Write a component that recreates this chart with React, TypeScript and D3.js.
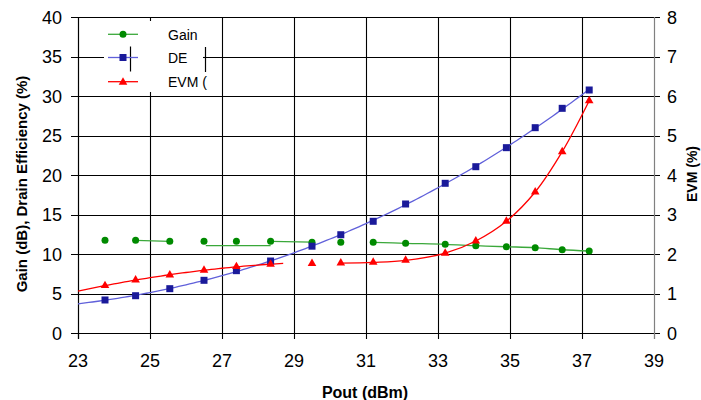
import React from "react";
import * as d3 from "d3";

// ---- data ----
const pout = [23.75, 24.6, 25.55, 26.5, 27.4, 28.35, 29.5, 30.3, 31.2, 32.1, 33.2, 34.05, 34.9, 35.7, 36.45, 37.2];
const gain = [11.73, 11.73, 11.61, 11.61, 11.61, 11.61, 11.5, 11.48, 11.48, 11.35, 11.23, 11.05, 10.92, 10.8, 10.54, 10.38];
const drainEff = [4.18, 4.72, 5.61, 6.67, 7.89, 9.11, 10.99, 12.44, 14.14, 16.33, 18.95, 21.05, 23.46, 25.99, 28.44, 30.76];
const evm = [1.2, 1.34, 1.47, 1.59, 1.68, 1.74, 1.76, 1.77, 1.79, 1.84, 2.02, 2.33, 2.83, 3.57, 4.59, 5.88];

const xTicks = [23, 25, 27, 29, 31, 33, 35, 37, 39];
const leftTicks = [0, 5, 10, 15, 20, 25, 30, 35, 40];
const rightTicks = [0, 1, 2, 3, 4, 5, 6, 7, 8];
const legendLabels = ["Gain", "DE", "EVM ("];

// connecting-line pieces as they appear in the source (index ranges)
const gainSegments = [[1, 2], [5, 6], [8, 15]];
const gainFlatX = [26.55, 28.35];
const gainFlatY = 11.05;
const evmSmoothSegment = [7, 15];
const evmTrendFitIdx = [0, 5];
const evmTrendRange = [23, 28.7];
const deTrendStart = 23;

const FONT = "'Liberation Sans', Arial, Helvetica, sans-serif";
const GREEN = "#008a00";
const GREEN_LINE = "#3aa83a";
const BLUE = "#1a1a9a";
const BLUE_LINE = "#6060da";
const RED = "#ff0000";

function polyfit(xs: number[], ys: number[], deg: number) {
  const mx = d3.mean(xs) as number;
  const n = deg + 1;
  const A: number[][] = Array.from({ length: n }, () => new Array(n + 1).fill(0));
  xs.forEach((x0, k) => {
    const x = x0 - mx;
    for (let i = 0; i < n; i++) {
      for (let j = 0; j < n; j++) A[i][j] += Math.pow(x, i + j);
      A[i][n] += ys[k] * Math.pow(x, i);
    }
  });
  for (let i = 0; i < n; i++) {
    let p = i;
    for (let r = i + 1; r < n; r++) if (Math.abs(A[r][i]) > Math.abs(A[p][i])) p = r;
    [A[i], A[p]] = [A[p], A[i]];
    for (let r = 0; r < n; r++) {
      if (r === i) continue;
      const f = A[r][i] / A[i][i];
      for (let c = i; c <= n; c++) A[r][c] -= f * A[i][c];
    }
  }
  const coef = A.map((row, i) => row[n] / row[i]);
  return (x: number) => coef.reduce((s, c, i) => s + c * Math.pow(x - mx, i), 0);
}

export default function App() {
  const W = 701, H = 400;
  const L = 78, R = 654, T = 17, B = 333;
  const x = d3.scaleLinear().domain([23, 39]).range([L, R]);
  const yL = d3.scaleLinear().domain([0, 40]).range([B, T]);
  const yR = d3.scaleLinear().domain([0, 8]).range([B, T]);

  const straight = d3.line<[number, number]>().x((d) => d[0]).y((d) => d[1]);
  const smooth = d3.line<[number, number]>().x((d) => d[0]).y((d) => d[1]).curve(d3.curveCatmullRom.alpha(0.5));

  // DE trend (cubic)
  const deFit = polyfit(pout, drainEff, 3);
  const deXs = d3.range(deTrendStart, pout[pout.length - 1] + 0.001, 0.1);
  const dePath = straight(deXs.map((v) => [x(v), yL(deFit(v))]));

  // EVM low-power trend
  const evmFitX = pout.slice(evmTrendFitIdx[0], evmTrendFitIdx[1] + 1);
  const evmFitY = evm.slice(evmTrendFitIdx[0], evmTrendFitIdx[1] + 1);
  const evmFit = polyfit(evmFitX, evmFitY, 2);
  const evmTrendXs = d3.range(evmTrendRange[0], evmTrendRange[1] + 0.001, 0.1);
  const evmTrendPath = straight(evmTrendXs.map((v) => [x(v), yR(evmFit(v))]));
  const evmSmoothPath = smooth(
    d3.range(evmSmoothSegment[0], evmSmoothSegment[1] + 1).map((i) => [x(pout[i]), yR(evm[i])])
  );

  const gainPaths = gainSegments.map(([a, b]) =>
    smooth(d3.range(a, b + 1).map((i) => [x(pout[i]), yL(gain[i])]))
  );
  const gainFlatPath = straight(gainFlatX.map((v) => [x(v), yL(gainFlatY)]));

  const sq = 7;
  const rc = 3.5;
  const tri = d3.symbol().type(d3.symbolTriangle).size(32)() as string;

  // legend geometry
  const lgX = 104, lgY = 21, lgW = 99, lgH = 71;
  const rowY = [34.3, 57.5, 81.7];
  const mkX0 = 108, mkX1 = 138, mkC = 123, txtX = 168;

  return (
    <svg width={W} height={H} style={{ position: "absolute", left: 0, top: 0, background: "#fff" }} fontFamily={FONT}>
      <rect x={0} y={0} width={W} height={H} fill="#fff" />
      {/* horizontal gridlines + left/right ticks */}
      {leftTicks.map((t) => (
        <line key={"h" + t} x1={L - 7} x2={R + 6} y1={Math.round(yL(t)) + 0.5} y2={Math.round(yL(t)) + 0.5} stroke="#000" strokeWidth={1.1} />
      ))}
      {/* vertical gridlines + bottom ticks */}
      {xTicks.map((t) => (
        <line key={"v" + t} x1={Math.round(x(t)) + 0.5} x2={Math.round(x(t)) + 0.5}
          y1={t === 23 || t === 39 ? B : T} y2={B + 6} stroke={t === 39 ? "#808080" : "#000"} strokeWidth={1.1} />
      ))}
      {/* axes */}
      <line x1={L + 0.5} x2={L + 0.5} y1={T} y2={B + 6} stroke="#000" strokeWidth={1.2} />
      <line x1={R + 0.5} x2={R + 0.5} y1={T} y2={B + 6} stroke="#808080" strokeWidth={1.2} />

      {/* tick labels */}
      {leftTicks.map((t) => (
        <text key={"lt" + t} x={62} y={yL(t) + 6.5} fontSize={18} textAnchor="end" fill="#000">{t}</text>
      ))}
      {rightTicks.map((t) => (
        <text key={"rt" + t} x={667} y={yR(t) + 6.5} fontSize={18} textAnchor="start" fill="#000">{t}</text>
      ))}
      {xTicks.map((t) => (
        <text key={"xt" + t} x={x(t)} y={367} fontSize={18} textAnchor="middle" fill="#000">{t}</text>
      ))}

      {/* axis titles */}
      <text x={365} y={398} fontSize={16} fontWeight="bold" textAnchor="middle">Pout (dBm)</text>
      <text transform={`translate(27,184) rotate(-90)`} fontSize={15} fontWeight="bold" textAnchor="middle">Gain (dB), Drain Efficiency (%)</text>
      <text transform={`translate(697,174) rotate(-90)`} fontSize={14} fontWeight="bold" textAnchor="middle">EVM (%)</text>

      {/* legend */}
      <rect x={lgX} y={lgY} width={lgW} height={lgH} fill="#fff" />
      <line x1={130.5} x2={130.5} y1={46.5} y2={71.5} stroke="#000" strokeWidth={1.2} />
      <line x1={205.5} x2={205.5} y1={47} y2={72} stroke="#000" strokeWidth={1.2} />
      <line x1={203} x2={206} y1={57.5} y2={57.5} stroke="#000" strokeWidth={1.1} />
      <line x1={mkX0} x2={mkX1} y1={rowY[0]} y2={rowY[0]} stroke={GREEN_LINE} strokeWidth={1.3} />
      <circle cx={mkC} cy={rowY[0]} r={rc} fill={GREEN} />
      <line x1={mkX0} x2={mkX1} y1={rowY[1]} y2={rowY[1]} stroke={BLUE_LINE} strokeWidth={1.3} />
      <rect x={mkC - sq / 2} y={rowY[1] - sq / 2} width={sq} height={sq} fill={BLUE} />
      <line x1={mkX0} x2={mkX1} y1={rowY[2]} y2={rowY[2]} stroke={RED} strokeWidth={1.3} />
      <path d={tri} transform={`translate(${mkC},${rowY[2] + 0.5})`} fill={RED} />
      {legendLabels.map((s, i) => (
        <text key={s} x={txtX} y={rowY[i] + 5.5} fontSize={14} fill="#000">{s}</text>
      ))}

      {/* series lines */}
      {gainPaths.map((p, i) => (
        <path key={"gp" + i} d={p as string} fill="none" stroke={GREEN_LINE} strokeWidth={1.3} />
      ))}
      <path d={gainFlatPath as string} fill="none" stroke={GREEN_LINE} strokeWidth={1.3} />
      <path d={dePath as string} fill="none" stroke={BLUE_LINE} strokeWidth={1.3} />
      <path d={evmTrendPath as string} fill="none" stroke={RED} strokeWidth={1.3} />
      <path d={evmSmoothPath as string} fill="none" stroke={RED} strokeWidth={1.3} />

      {/* markers */}
      {pout.map((p, i) => (
        <circle key={"g" + i} cx={x(p)} cy={yL(gain[i])} r={rc} fill={GREEN} />
      ))}
      {pout.map((p, i) => (
        <rect key={"d" + i} x={x(p) - sq / 2} y={yL(drainEff[i]) - sq / 2} width={sq} height={sq} fill={BLUE} />
      ))}
      {pout.map((p, i) => (
        <path key={"e" + i} d={tri} transform={`translate(${x(p)},${yR(evm[i])})`} fill={RED} />
      ))}
    </svg>
  );
}
